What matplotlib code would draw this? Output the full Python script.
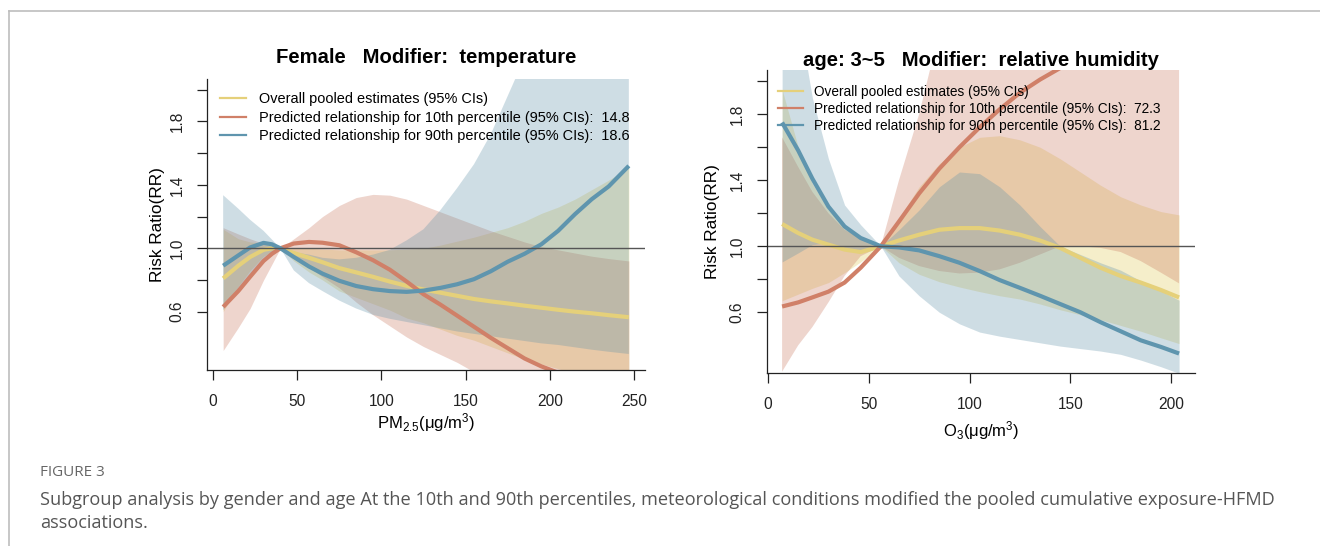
import matplotlib

matplotlib.use("Agg")
import matplotlib.pyplot as plt
from matplotlib.lines import Line2D

plt.rcParams["font.family"] = ["Liberation Sans", "DejaVu Sans"]
plt.rcParams["mathtext.fontset"] = "custom"
plt.rcParams["mathtext.rm"] = "Liberation Sans"
plt.rcParams["mathtext.it"] = "Liberation Sans:italic"

# ---- left panel: PM2.5, modifier temperature (Female) ----
pm_x = [6, 15, 22, 30, 35, 40, 48, 57, 65, 75, 85, 95, 105, 115, 125, 135,
        145, 155, 165, 175, 185, 195, 205, 215, 225, 235, 247]
pm_overall = [0.81, 0.89, 0.945, 0.99, 1.0, 1.0, 0.97, 0.94, 0.912, 0.875, 0.848,
              0.82, 0.79, 0.763, 0.74, 0.72, 0.70, 0.68, 0.665, 0.652, 0.638,
              0.625, 0.612, 0.60, 0.59, 0.578, 0.565]
pm_overall_lo = [0.60, 0.76, 0.86, 0.95, 0.98, 1.0, 0.92, 0.85, 0.80, 0.73, 0.69,
                 0.65, 0.61, 0.56, 0.53, 0.49, 0.45, 0.42, 0.38, 0.34, 0.30,
                 0.27, 0.24, 0.21, 0.18, 0.15, 0.12]
pm_overall_hi = [1.12, 1.06, 1.04, 1.03, 1.015, 1.0, 1.0, 1.0, 0.995, 0.99, 0.99,
                 0.99, 0.99, 0.995, 1.0, 1.02, 1.045, 1.07, 1.10, 1.13, 1.17,
                 1.22, 1.26, 1.31, 1.37, 1.43, 1.51]
pm_p10 = [0.63, 0.73, 0.82, 0.92, 0.965, 1.0, 1.03, 1.04, 1.035, 1.019, 0.975,
          0.925, 0.865, 0.79, 0.71, 0.645, 0.575, 0.505, 0.435, 0.37, 0.305,
          0.255, 0.215, 0.17, 0.13, 0.09, 0.05]
pm_p10_lo = [0.355, 0.50, 0.62, 0.80, 0.90, 1.0, 0.95, 0.88, 0.82, 0.75, 0.66,
             0.58, 0.51, 0.44, 0.38, 0.33, 0.28, 0.22, 0.17, 0.13, 0.10,
             0.08, 0.06, 0.05, 0.04, 0.03, 0.02]
pm_p10_hi = [1.13, 1.09, 1.06, 1.03, 1.015, 1.0, 1.06, 1.13, 1.20, 1.27, 1.32,
             1.34, 1.335, 1.31, 1.27, 1.23, 1.19, 1.15, 1.11, 1.075, 1.04,
             1.01, 0.99, 0.97, 0.95, 0.935, 0.92]
pm_p90 = [0.89, 0.955, 1.005, 1.034, 1.025, 1.0, 0.945, 0.885, 0.84, 0.795, 0.762,
          0.742, 0.73, 0.725, 0.733, 0.75, 0.773, 0.805, 0.855, 0.915, 0.965,
          1.025, 1.11, 1.215, 1.31, 1.39, 1.52]
pm_p90_lo = [0.61, 0.73, 0.83, 0.92, 0.96, 1.0, 0.86, 0.78, 0.73, 0.67, 0.62,
             0.58, 0.555, 0.535, 0.515, 0.495, 0.475, 0.46, 0.445, 0.43, 0.415,
             0.40, 0.39, 0.375, 0.36, 0.347, 0.333]
pm_p90_hi = [1.335, 1.25, 1.18, 1.11, 1.055, 1.0, 0.975, 0.96, 0.94, 0.93, 0.94,
             0.96, 0.99, 1.05, 1.12, 1.24, 1.38, 1.53, 1.72, 1.96, 2.2,
             2.45, 2.7, 3.0, 3.3, 3.6, 4.0]

# ---- right panel: O3, modifier relative humidity (age 3~5) ----
o3_x = [7, 15, 22, 30, 38, 46, 56, 65, 75, 85, 95, 105, 115, 125, 135, 145,
        155, 165, 175, 185, 195, 204]
o3_overall = [1.135, 1.08, 1.04, 1.01, 0.98, 0.965, 1.0, 1.035, 1.07, 1.1, 1.11,
              1.11, 1.095, 1.07, 1.035, 0.99, 0.93, 0.87, 0.82, 0.78, 0.735, 0.69]
o3_overall_lo = [0.67, 0.71, 0.745, 0.78, 0.84, 0.905, 1.0, 0.90, 0.83, 0.785, 0.753,
                 0.725, 0.70, 0.68, 0.65, 0.615, 0.585, 0.555, 0.52, 0.485, 0.445, 0.41]
o3_overall_hi = [1.95, 1.6, 1.38, 1.22, 1.12, 1.05, 1.0, 1.17, 1.36, 1.5, 1.6,
                 1.66, 1.67, 1.645, 1.6, 1.53, 1.45, 1.37, 1.3, 1.25, 1.21, 1.19]
o3_p10 = [0.635, 0.66, 0.69, 0.725, 0.78, 0.87, 1.0, 1.15, 1.32, 1.47, 1.6,
          1.72, 1.83, 1.93, 2.01, 2.08, 2.15, 2.22, 2.3, 2.38, 2.46, 2.54]
o3_p10_lo = [0.24, 0.40, 0.51, 0.66, 0.82, 0.94, 1.0, 0.93, 0.88, 0.85, 0.835,
             0.84, 0.86, 0.90, 0.95, 1.0, 1.0, 0.99, 0.965, 0.91, 0.84, 0.775]
o3_p10_hi = [1.66, 1.48, 1.33, 1.2, 1.1, 1.05, 1.0, 1.4, 1.8, 2.3, 2.7,
             3.0, 3.2, 3.4, 3.5, 3.6, 3.7, 3.8, 3.9, 4.0, 4.1, 4.2]
o3_p90 = [1.75, 1.58, 1.41, 1.24, 1.12, 1.05, 1.0, 0.993, 0.975, 0.94, 0.9,
          0.85, 0.795, 0.748, 0.70, 0.65, 0.60, 0.54, 0.485, 0.43, 0.39, 0.35]
o3_p90_lo = [0.905, 0.96, 1.01, 1.02, 0.99, 0.965, 1.0, 0.82, 0.70, 0.60, 0.53,
             0.48, 0.455, 0.435, 0.415, 0.395, 0.38, 0.365, 0.345, 0.31, 0.27, 0.23]
o3_p90_hi = [3.3, 2.4, 1.9, 1.53, 1.25, 1.13, 1.0, 1.1, 1.22, 1.36, 1.45,
             1.44, 1.36, 1.25, 1.12, 1.0, 0.95, 0.9, 0.855, 0.79, 0.73, 0.673]

yticks = [0.6, 0.8, 1.0, 1.2, 1.4, 1.6, 1.8, 2.0]
ytick_labels = ["0.6", "", "1.0", "", "1.4", "", "1.8", ""]

legend_labels = [
    "Overall pooled estimates (95% CIs)",
    "Predicted relationship for 10th percentile (95% CIs):  14.8",
    "Predicted relationship for 90th percentile (95% CIs):  18.6",
]
legend_labels_o3 = [
    "Overall pooled estimates (95% CIs)",
    "Predicted relationship for 10th percentile (95% CIs):  72.3",
    "Predicted relationship for 90th percentile (95% CIs):  81.2",
]

# colours: (line, band)
c_overall = ("#E5D07A", "#E0C850")
c_p10 = ("#D08068", "#C8745C")
c_p90 = ("#5F95AE", "#5F91A8")


def draw_panel(ax, x, series, xlim, xticks, title, title_y, xlabel, xlabel_y,
               ylabel_x, labels, leg_anchor, leg_size, leg_space):
    for line, lo, hi, col in series:
        ax.fill_between(x, lo, hi, color=col[1], alpha=0.3, lw=0)
        ax.plot(x, line, color=col[0], lw=3, solid_capstyle="butt")
    ax.axhline(1.0, color="#555555", lw=1)

    ax.set_xlim(*xlim)
    ax.set_ylim(0.232, 2.068)
    ax.set_xticks(xticks)
    ax.set_yticks(yticks)
    ax.set_yticklabels(ytick_labels, rotation=90, va="center")
    ax.tick_params(length=7, width=0.9, colors="#222222", labelsize=11.2)
    ax.tick_params(axis="x", pad=10)
    ax.tick_params(axis="y", pad=9)
    for s in ["top", "right"]:
        ax.spines[s].set_visible(False)
    for s in ["left", "bottom"]:
        ax.spines[s].set_color("#222222")
        ax.spines[s].set_linewidth(0.9)

    ax.text(0.5, title_y, title, transform=ax.transAxes, ha="center",
            va="center", fontsize=14.6, fontweight="bold")
    ax.text(0.5, xlabel_y, xlabel, transform=ax.transAxes, ha="center",
            va="center", fontsize=12)
    ax.text(ylabel_x, 0.5, "Risk Ratio(RR)", transform=ax.transAxes,
            ha="center", va="center", rotation=90, fontsize=12.4)

    handles = [Line2D([], [], color=c[0], lw=1.6) for c in
               (c_overall, c_p10, c_p90)]
    ax.legend(handles, labels, loc="upper left", bbox_to_anchor=leg_anchor,
              frameon=False, fontsize=leg_size, borderaxespad=0, borderpad=0,
              handlelength=1.8, handletextpad=0.85, labelspacing=leg_space)


fig = plt.figure(figsize=(13.2, 5.46), dpi=100)

ax1 = fig.add_axes([207 / 1320, 1 - 370 / 546, 438 / 1320, 291 / 546])
draw_panel(
    ax1, pm_x,
    [(pm_overall, pm_overall_lo, pm_overall_hi, c_overall),
     (pm_p10, pm_p10_lo, pm_p10_hi, c_p10),
     (pm_p90, pm_p90_lo, pm_p90_hi, c_p90)],
    (-3.6, 256.6), [0, 50, 100, 150, 200, 250],
    "Female   Modifier:  temperature", 1.0756,
    r"PM$_{2.5}$(μg/m$^{3}$)", -0.18, -0.112,
    legend_labels, (0.03, 0.955), 10.45, 0.32,
)

ax2 = fig.add_axes([767 / 1320, 1 - 373 / 546, 428 / 1320, 303 / 546])
draw_panel(
    ax2, o3_x,
    [(o3_overall, o3_overall_lo, o3_overall_hi, c_overall),
     (o3_p10, o3_p10_lo, o3_p10_hi, c_p10),
     (o3_p90, o3_p90_lo, o3_p90_hi, c_p90)],
    (-0.5, 211.9), [0, 50, 100, 150, 200],
    "age: 3~5   Modifier:  relative humidity", 1.033,
    r"O$_{3}$(μg/m$^{3}$)", -0.19, -0.1285,
    legend_labels_o3, (0.026, 0.952), 9.8, 0.23,
)

# figure frame and caption
fig.add_artist(Line2D([9 / 1320, 1], [1 - 11 / 546] * 2, color="#bdbdbd", lw=1.2))
fig.add_artist(Line2D([9 / 1320] * 2, [0, 1 - 11 / 546], color="#bdbdbd", lw=1.2))

fig.text(40 / 1320, 1 - 472 / 546, "FIGURE 3", fontsize=11, color="#666666",
         family="Open Sans", va="center")
fig.text(40 / 1320, 1 - 500 / 546,
         "Subgroup analysis by gender and age At the 10th and 90th percentiles, "
         "meteorological conditions modified the pooled cumulative exposure-HFMD",
         fontsize=13.1, color="#555555", family="Open Sans", va="center")
fig.text(40 / 1320, 1 - 523 / 546, "associations.", fontsize=13.1,
         color="#555555", family="Open Sans", va="center")

fig.savefig("out.png", dpi=100)
